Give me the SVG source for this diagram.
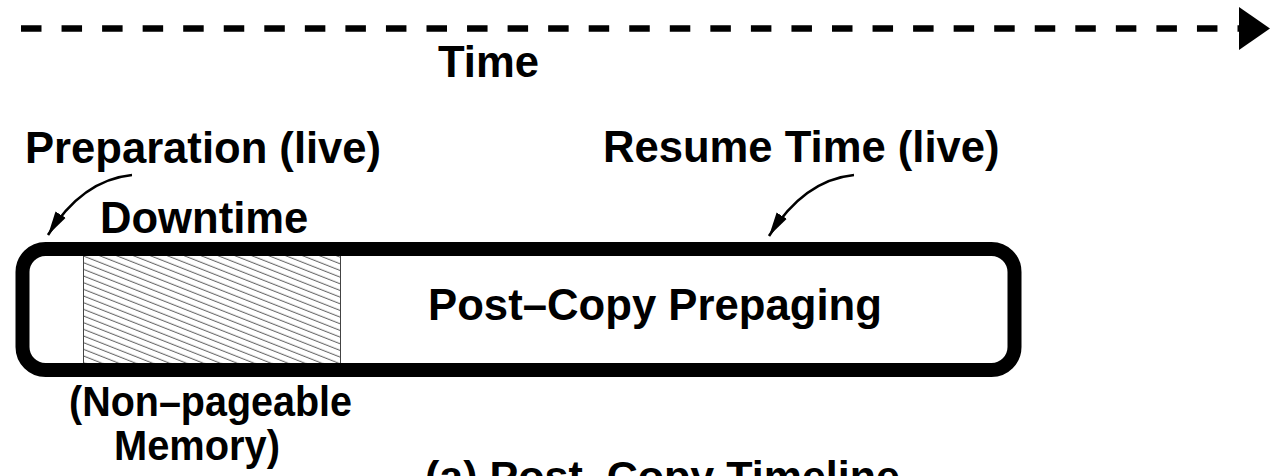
<svg xmlns="http://www.w3.org/2000/svg" width="1286" height="476" viewBox="0 0 1286 476">
  <style>
    .lbl { font-family: "Liberation Sans", Arial, Helvetica, sans-serif; font-weight: bold; fill: #000; }
    .big { font-size: 43.6px; }
    .small { font-size: 42px; }
    .pointer { fill: none; stroke: #000; stroke-width: 2.6; }
  </style>
  <defs>
    <pattern id="hatch" patternUnits="userSpaceOnUse" width="20" height="6.2" patternTransform="rotate(21.5)">
      <line x1="0" y1="3" x2="20" y2="3" stroke="#6a6a6a" stroke-width="1.1"/>
    </pattern>
    <marker id="head" markerUnits="userSpaceOnUse" markerWidth="26" markerHeight="14" viewBox="0 -7 26 14" refX="24" refY="0" orient="auto">
      <path d="M0,-6 L24,0 L0,6 z" fill="#000"/>
    </marker>
  </defs>

  <!-- time axis -->
  <g id="time-axis">
    <line x1="21" y1="28.5" x2="1241" y2="28.5" stroke="#000" stroke-width="6.5" stroke-dasharray="20.5 20.05"/>
    <polygon points="1239,7 1270,28.5 1239,50" fill="#000"/>
    <text class="lbl big" x="438" y="77">Time</text>
  </g>

  <!-- timeline bar -->
  <g id="downtime-block">
    <rect x="83" y="256" width="258" height="107" fill="url(#hatch)"/>
    <line x1="83.5" y1="256" x2="83.5" y2="363" stroke="#444" stroke-width="1"/>
    <line x1="340.5" y1="256" x2="340.5" y2="363" stroke="#444" stroke-width="1"/>
  </g>
  <g id="timeline-bar">
    <rect x="22.5" y="249" width="992" height="121" rx="23" ry="23" fill="none" stroke="#000" stroke-width="14"/>
    <text class="lbl big" x="428" y="320" textLength="454" lengthAdjust="spacingAndGlyphs">Post–Copy Prepaging</text>
  </g>

  <!-- phase labels -->
  <g id="label-preparation">
    <text class="lbl big" x="25" y="163">Preparation (live)</text>
  </g>
  <g id="label-downtime">
    <text class="lbl big" x="100" y="233">Downtime</text>
  </g>
  <g id="label-resume">
    <text class="lbl big" x="603" y="162">Resume Time (live)</text>
  </g>
  <g id="label-nonpageable">
    <text class="lbl small" x="69" y="416" textLength="283" lengthAdjust="spacingAndGlyphs">(Non–pageable</text>
    <text class="lbl small" x="114" y="460" textLength="166" lengthAdjust="spacingAndGlyphs">Memory)</text>
  </g>
  <g id="caption">
    <text class="lbl small" x="425" y="491" textLength="475" lengthAdjust="spacingAndGlyphs">(a) Post–Copy Timeline</text>
  </g>

  <!-- pointers -->
  <g id="connectors">
    <path class="pointer" d="M132,175 Q82,180 48,235" marker-end="url(#head)"/>
    <path class="pointer" d="M854,175 Q804,180 769,236" marker-end="url(#head)"/>
  </g>
</svg>
